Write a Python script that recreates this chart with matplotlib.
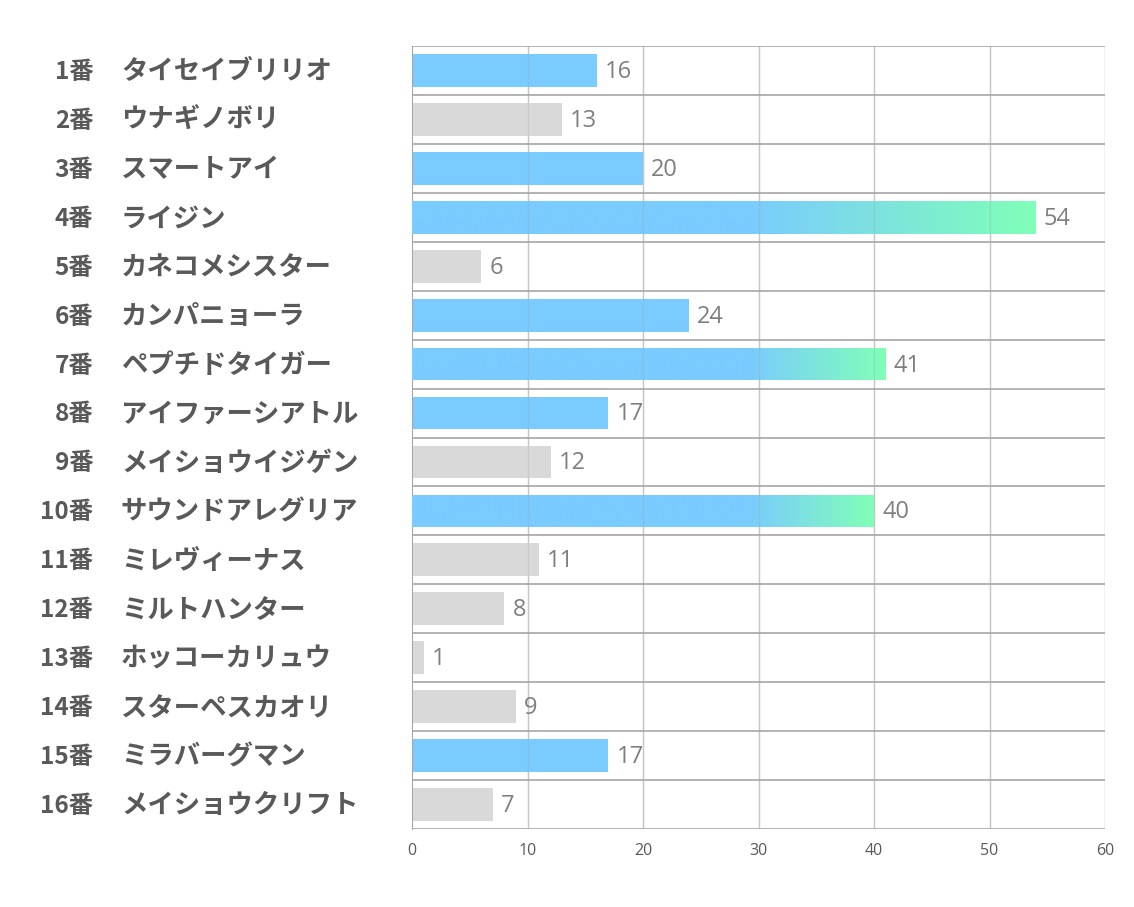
"""Horizontal bar chart of horse numbers and names with highlighted bars"""

import matplotlib
matplotlib.use('Agg')
import matplotlib.pyplot as plt
import numpy as np
from matplotlib.colors import LinearSegmentedColormap

plt.rcParams['font.family'] = ['Noto Sans CJK JP', 'DejaVu Sans']

numbers = ['1番', '2番', '3番', '4番', '5番', '6番', '7番', '8番',
           '9番', '10番', '11番', '12番', '13番', '14番', '15番', '16番']
names = ['タイセイブリリオ', 'ウナギノボリ', 'スマートアイ', 'ライジン',
         'カネコメシスター', 'カンパニョーラ', 'ペプチドタイガー', 'アイファーシアトル',
         'メイショウイジゲン', 'サウンドアレグリア', 'ミレヴィーナス', 'ミルトハンター',
         'ホッコーカリュウ', 'スターペスカオリ', 'ミラバーグマン', 'メイショウクリフト']
values = [16, 13, 20, 54, 6, 24, 41, 17, 12, 40, 11, 8, 1, 9, 17, 7]
highlighted = [True, False, True, True, False, True, True, True,
               False, True, False, False, False, False, True, False]

BLUE = '#7acbff'
GREEN = '#80ffb8'
GRAY = '#d9d9d9'
GRAD_START = 29

fig = plt.figure(figsize=(11.34, 9.07), dpi=100)
ax = fig.add_axes([412 / 1134, 1 - 829 / 907, 693 / 1134, 783 / 907])

n = len(values)
ypos = np.arange(n)
bar_h = 0.67

cmap = LinearSegmentedColormap.from_list('bg', [BLUE, GREEN])
for y, v, hi in zip(ypos, values, highlighted):
    color = BLUE if hi else GRAY
    bars = ax.barh(y, v, height=bar_h, color=color, zorder=2)
    if hi and v > GRAD_START + 5:
        # blue up to GRAD_START, then fade to green at the bar end
        xs = np.linspace(0, v, 512)
        grad = np.clip((xs - GRAD_START) / (v - GRAD_START), 0, 1).reshape(1, -1)
        im = ax.imshow(grad, cmap=cmap, vmin=0, vmax=1, aspect='auto', zorder=3,
                       extent=[0, v, y + bar_h / 2, y - bar_h / 2])
        im.set_clip_path(bars[0])
    ax.text(v + 0.7, y + 0.03, str(v), va='center', ha='left', fontsize=17,
            color='#7f7f7f', family=['Open Sans', 'DejaVu Sans'])

# vertical gridlines, faint where they cross the bars
for x in range(10, 61, 10):
    ax.axvline(x, color='#d4d4d4', lw=1, zorder=1)
    ax.axvline(x, color='#a0a0a0', lw=1, alpha=0.25, zorder=4)

# row separators
for b in np.arange(-0.5, n, 1.0):
    ax.axhline(b, color='#a6a6a6', lw=1.2, zorder=5)

ax.set_xlim(0, 60)
ax.set_ylim(n - 0.5, -0.5)
ax.set_xticks(range(0, 61, 10))
ax.set_yticks([])
ax.tick_params(axis='x', length=0, pad=10, labelsize=11.5, labelcolor='#595959')
for lbl in ax.get_xticklabels():
    lbl.set_family(['Open Sans', 'DejaVu Sans'])

for side in ['top', 'bottom', 'right']:
    ax.spines[side].set_visible(False)
ax.spines['left'].set_color('#a6a6a6')

trans = ax.get_yaxis_transform()
for y, num, name in zip(ypos, numbers, names):
    ax.text(-0.460, y + 0.03, num, transform=trans, ha='right', va='center',
            fontsize=17.5, fontweight='bold', color='#595959')
    ax.text(-0.420, y + 0.03, name, transform=trans, ha='left', va='center',
            fontsize=19, fontweight='bold', color='#595959')

fig.savefig('out.png', dpi=100)
